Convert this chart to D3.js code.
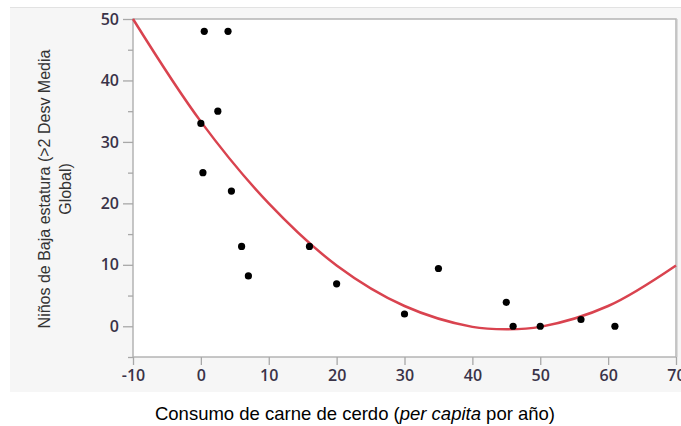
<!DOCTYPE html>
<html>
<head>
<meta charset="utf-8">
<script src="https://cdn.jsdelivr.net/npm/d3@7"></script>
<style>
  html, body { margin: 0; padding: 0; background: #fff; }
  svg { display: block; }
</style>
</head>
<body>
<svg id="chart" width="681" height="426"></svg>
<script>
// pork consumption (x) vs. stunted children (y)
const consumo = [0.5, 4, 2.5, 0, 0.3, 4.5, 6, 7, 16, 20, 30, 35, 45, 46, 50, 56, 61];
const baja    = [48, 48, 35, 33, 25, 22, 13, 8.2, 13, 6.9, 2, 9.4, 3.9, 0, 0, 1.1, 0];

// fitted curve
const fitX = [-10, 0, 10, 20, 30, 40, 45, 50, 60, 70];
const fitY = [50, 33.3, 20, 9.9, 3.3, -0.1, -0.5, -0.1, 3.3, 9.9];

const xTicks = [-10, 0, 10, 20, 30, 40, 50, 60, 70];
const yTicks = [0, 10, 20, 30, 40, 50];
const yMinor = [-5, 5, 15, 25, 35, 45];

const svg = d3.select('#chart');
const plot = { left: 133, right: 676, top: 19, bottom: 357 };

const x = d3.scaleLinear().domain([-10, 70]).range([plot.left, plot.right]);
const y = d3.scaleLinear().domain([-5, 50]).range([plot.bottom, plot.top]);

// grey panel
svg.append('rect')
  .attr('x', 10).attr('y', 7).attr('width', 671).attr('height', 385)
  .attr('fill', '#f6f6f6');
svg.append('line')
  .attr('x1', 10).attr('x2', 681).attr('y1', 7.5).attr('y2', 7.5)
  .attr('stroke', '#e2e2e2');

// plot frame
svg.append('rect')
  .attr('x', plot.left).attr('y', plot.top)
  .attr('width', plot.right - plot.left).attr('height', plot.bottom - plot.top)
  .attr('fill', '#fff')
  .attr('stroke', '#b4b4b4').attr('stroke-width', 1.5);
svg.append('line')
  .attr('x1', plot.right + 1.5).attr('x2', plot.right + 1.5)
  .attr('y1', plot.top).attr('y2', plot.bottom)
  .attr('stroke', '#dcdcdc');

const tickFont = '"Open Sans", "DejaVu Sans", sans-serif';
const fmt = d => String(d); // plain hyphen for negatives, like the original

// y axis
const yAxis = svg.append('g')
  .attr('transform', `translate(${plot.left},0)`)
  .call(d3.axisLeft(y).tickValues(yTicks).tickSize(10).tickPadding(4).tickFormat(fmt));
yAxis.select('.domain').remove();
yAxis.selectAll('.tick line').attr('stroke', '#a8a8a8').attr('stroke-width', 1.3);
yAxis.selectAll('.tick text')
  .attr('fill', '#3a3348').attr('font-family', tickFont)
  .attr('font-size', 16).attr('font-weight', 600);
svg.append('g')
  .attr('transform', `translate(${plot.left},0)`)
  .call(d3.axisLeft(y).tickValues(yMinor).tickSize(5).tickFormat(''))
  .call(g => g.select('.domain').remove())
  .selectAll('.tick line').attr('stroke', '#a8a8a8').attr('stroke-width', 1.3);

// x axis
const xAxis = svg.append('g')
  .attr('transform', `translate(0,${plot.bottom})`)
  .call(d3.axisBottom(x).tickValues(xTicks).tickSize(8).tickPadding(5).tickFormat(fmt));
xAxis.select('.domain').remove();
xAxis.selectAll('.tick line').attr('stroke', '#a8a8a8').attr('stroke-width', 1.3);
xAxis.selectAll('.tick text')
  .attr('fill', '#3a3348').attr('font-family', tickFont)
  .attr('font-size', 16).attr('font-weight', 600);

// fitted curve
const fit = fitX.map((v, i) => [v, fitY[i]]);
svg.append('path')
  .datum(fit)
  .attr('fill', 'none')
  .attr('stroke', '#d9434f')
  .attr('stroke-width', 2.5)
  .attr('d', d3.line().x(d => x(d[0])).y(d => y(d[1])).curve(d3.curveCatmullRom));

// points
svg.append('g')
  .selectAll('circle')
  .data(consumo.map((v, i) => [v, baja[i]]))
  .join('circle')
  .attr('cx', d => x(d[0]))
  .attr('cy', d => y(d[1]))
  .attr('r', 3.6)
  .attr('fill', '#000');

// y title
const yTitle = svg.append('text')
  .attr('transform', 'translate(50,189) rotate(-90)')
  .attr('text-anchor', 'middle')
  .attr('font-family', '"Liberation Sans Narrow", "Liberation Sans", sans-serif')
  .attr('font-size', 16)
  .attr('fill', '#333');
yTitle.append('tspan').attr('x', 0).attr('dy', 0).text('Niños de Baja estatura (>2 Desv Media');
yTitle.append('tspan').attr('x', 0).attr('dy', 21).text('Global)');

// x title
const xTitle = svg.append('text')
  .attr('x', 355).attr('y', 420)
  .attr('text-anchor', 'middle')
  .attr('font-family', '"Liberation Sans", Arial, sans-serif')
  .attr('font-size', 18.5)
  .attr('fill', '#000');
xTitle.append('tspan').text('Consumo de carne de cerdo (');
xTitle.append('tspan').attr('font-style', 'italic').text('per capita');
xTitle.append('tspan').text(' por año)');
</script>
</body>
</html>
